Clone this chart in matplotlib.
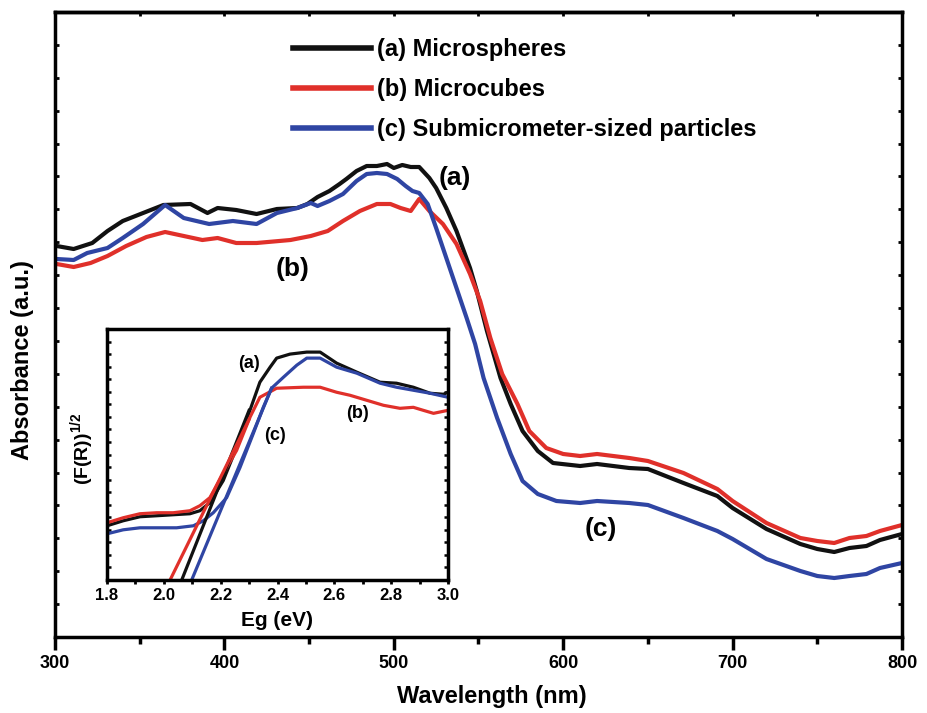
import matplotlib
matplotlib.use('Agg')
import matplotlib.pyplot as plt
import numpy as np

plt.rcParams['font.family'] = ['Liberation Sans', 'DejaVu Sans']
plt.rcParams['font.weight'] = 'bold'
plt.rcParams['mathtext.fontset'] = 'custom'
plt.rcParams['mathtext.rm'] = 'Liberation Sans:bold'
plt.rcParams['mathtext.bf'] = 'Liberation Sans:bold'

BLACK = '#111111'
RED = '#e0302a'
BLUE = '#2f45a3'

# main panel: UV-vis absorbance, arbitrary units
wl_a = [301, 311, 322, 331, 340, 352, 364, 380, 390, 396, 407, 419, 431, 443, 449, 455, 462, 468,
        472, 478, 484, 490, 496, 500, 505, 510, 515, 521, 525, 531, 537, 545, 549, 555, 563, 569,
        576, 585, 594, 610, 620, 639, 650, 671, 691, 700, 720, 740, 750, 760, 769, 779, 787, 800]
abs_a = [3.91, 3.88, 3.94, 4.06, 4.16, 4.24, 4.32, 4.33, 4.24, 4.29, 4.27, 4.23, 4.28, 4.29, 4.33,
         4.40, 4.46, 4.53, 4.58, 4.66, 4.71, 4.71, 4.73, 4.69, 4.72, 4.70, 4.70, 4.59, 4.49, 4.29,
         4.06, 3.69, 3.46, 3.06, 2.59, 2.33, 2.06, 1.86, 1.74, 1.71, 1.73, 1.69, 1.68, 1.54, 1.41,
         1.29, 1.08, 0.93, 0.88, 0.85, 0.89, 0.91, 0.97, 1.03]

wl_b = [301, 311, 321, 331, 342, 354, 365, 376, 387, 396, 407, 419, 439, 451, 461, 470, 480, 490,
        498, 504, 510, 515, 521, 529, 537, 545, 551, 557, 564, 573, 580, 590, 600, 610, 620, 639,
        650, 671, 691, 700, 720, 740, 750, 760, 769, 779, 787, 800]
abs_b = [3.73, 3.70, 3.74, 3.81, 3.91, 4.00, 4.05, 4.01, 3.97, 3.99, 3.94, 3.94, 3.97, 4.01, 4.06,
         4.16, 4.26, 4.33, 4.33, 4.29, 4.26, 4.38, 4.26, 4.13, 3.93, 3.63, 3.36, 2.99, 2.63, 2.33,
         2.06, 1.89, 1.83, 1.81, 1.83, 1.79, 1.76, 1.64, 1.48, 1.36, 1.14, 0.99, 0.96, 0.94, 0.99,
         1.01, 1.06, 1.12]

wl_c = [301, 311, 319, 331, 340, 352, 365, 376, 391, 405, 419, 431, 443, 451, 455, 462, 470, 478,
        484, 490, 496, 502, 507, 511, 515, 520, 525, 531, 537, 543, 548, 553, 561, 569, 576, 585,
        596, 610, 620, 639, 650, 671, 691, 700, 720, 740, 750, 760, 769, 779, 787, 800]
abs_c = [3.78, 3.77, 3.84, 3.89, 3.99, 4.13, 4.32, 4.19, 4.13, 4.16, 4.13, 4.24, 4.29, 4.34, 4.31,
         4.36, 4.43, 4.56, 4.63, 4.64, 4.63, 4.58, 4.51, 4.46, 4.44, 4.33, 4.09, 3.79, 3.49, 3.19,
         2.93, 2.59, 2.19, 1.83, 1.56, 1.43, 1.36, 1.34, 1.36, 1.34, 1.32, 1.19, 1.06, 0.98, 0.78,
         0.66, 0.61, 0.59, 0.61, 0.63, 0.69, 0.74]

labels = ['(a) Microspheres', '(b) Microcubes', '(c) Submicrometer-sized particles']

# inset: Kubelka-Munk plot
eg_a = [1.80, 1.857, 1.916, 1.975, 2.033, 2.092, 2.127, 2.162, 2.209, 2.256, 2.303, 2.338, 2.374,
        2.397, 2.444, 2.503, 2.55, 2.608, 2.679, 2.761, 2.819, 2.878, 2.937, 2.984, 3.0]
fr_a = [0.54, 0.59, 0.63, 0.64, 0.65, 0.66, 0.69, 0.77, 0.99, 1.32, 1.69, 1.97, 2.12, 2.21, 2.25,
        2.27, 2.27, 2.16, 2.07, 1.97, 1.96, 1.92, 1.86, 1.85, 1.87]
eg_b = [1.80, 1.857, 1.916, 1.975, 2.033, 2.092, 2.127, 2.162, 2.209, 2.256, 2.303, 2.338, 2.397,
        2.491, 2.55, 2.608, 2.655, 2.714, 2.773, 2.831, 2.878, 2.913, 2.949, 3.0]
fr_b = [0.57, 0.62, 0.66, 0.67, 0.67, 0.69, 0.74, 0.82, 1.06, 1.29, 1.62, 1.82, 1.91, 1.92, 1.92,
        1.87, 1.84, 1.79, 1.74, 1.71, 1.72, 1.69, 1.66, 1.69]
eg_c = [1.80, 1.857, 1.916, 1.975, 2.045, 2.104, 2.139, 2.174, 2.221, 2.268, 2.315, 2.350, 2.379,
        2.421, 2.468, 2.503, 2.55, 2.608, 2.679, 2.761, 2.819, 2.878, 2.937, 3.0]
fr_c = [0.46, 0.50, 0.52, 0.52, 0.52, 0.54, 0.59, 0.67, 0.82, 1.12, 1.46, 1.72, 1.91, 2.02, 2.14,
        2.21, 2.21, 2.12, 2.06, 1.96, 1.92, 1.89, 1.86, 1.82]

# band-gap tangent lines
tan_a_e = [2.063, 2.30]
tan_a_v = [0.0, 1.69]
tan_b_e = [2.022, 2.30]
tan_b_v = [0.0, 1.60]
tan_c_e = [2.098, 2.379]
tan_c_v = [0.0, 1.91]

fig = plt.figure(figsize=(9.28, 7.13), dpi=100)
ax = fig.add_axes([55 / 928, 1 - 637 / 713, 847 / 928, 625 / 713])

ax.plot(wl_a, abs_a, color=BLACK, lw=3, label=labels[0])
ax.plot(wl_b, abs_b, color=RED, lw=3, label=labels[1])
ax.plot(wl_c, abs_c, color=BLUE, lw=3, label=labels[2])

ax.set_xlim(300, 800)
ax.set_ylim(0, 6.25)
ax.set_xticks([300, 400, 500, 600, 700, 800])
ax.set_xticks([350, 450, 550, 650, 750], minor=True)
ax.set_yticks(np.linspace(0, 6.25, 20))
ax.set_yticklabels([])
ax.tick_params(axis='x', which='major', direction='out', length=9, width=2.5, labelsize=13, pad=4)
ax.tick_params(axis='x', which='minor', direction='out', length=5, width=2.5)
ax.tick_params(axis='y', which='major', direction='in', length=3, width=2, left=True, right=True)
for lab in ax.get_xticklabels():
    lab.set_fontweight('bold')
top = ax.secondary_xaxis('top')
top.set_xticks(np.arange(300, 801, 50))
top.set_xticklabels([])
top.tick_params(direction='in', length=3, width=2)
for sp in ax.spines.values():
    sp.set_linewidth(2.5)
top.spines['top'].set_linewidth(2.5)

fig.text(492 / 928, 1 - 697 / 713, 'Wavelength (nm)', fontsize=17, fontweight='bold',
         ha='center', va='center')
fig.text(23 / 928, 1 - 360 / 713, 'Absorbance (a.u.)', fontsize=17, fontweight='bold',
         ha='center', va='center', rotation=90)

leg = ax.legend(loc='upper left', bbox_to_anchor=(293 / 928, 1 - 38 / 713),
                bbox_transform=fig.transFigure, frameon=False,
                handlelength=3.3, handletextpad=0.25, labelspacing=0.72,
                borderpad=0, borderaxespad=0, prop={'weight': 'bold', 'size': 17})
for line in leg.get_lines():
    line.set_linewidth(4)

ax.text(536, 4.59, '(a)', fontsize=19, fontweight='bold', ha='center', va='center')
ax.text(440, 3.68, '(b)', fontsize=19, fontweight='bold', ha='center', va='center')
ax.text(622, 1.08, '(c)', fontsize=19, fontweight='bold', ha='center', va='center')

# inset
axin = fig.add_axes([107 / 928, 1 - 580 / 713, 341 / 928, 251 / 713])
axin.plot(eg_a, fr_a, color=BLACK, lw=2.3)
axin.plot(eg_b, fr_b, color=RED, lw=2.3)
axin.plot(eg_c, fr_c, color=BLUE, lw=2.3)
axin.plot(tan_a_e, tan_a_v, color=BLACK, lw=2.3)
axin.plot(tan_b_e, tan_b_v, color=RED, lw=2.3)
axin.plot(tan_c_e, tan_c_v, color=BLUE, lw=2.3)
axin.set_xlim(1.8, 3.0)
axin.set_ylim(0, 2.5)
axin.set_xticks(np.arange(1.8, 3.01, 0.2))
axin.set_xticks(np.arange(1.9, 3.0, 0.2), minor=True)
axin.set_xticklabels(['%.1f' % v for v in np.arange(1.8, 3.01, 0.2)], fontsize=12, fontweight='bold')
axin.set_yticks(np.linspace(0, 2.5, 21))
axin.set_yticklabels([])
axin.tick_params(axis='x', which='both', direction='out', length=3, width=2, pad=3)
axin.tick_params(axis='y', direction='in', length=3, width=1.8, left=True, right=True)
for sp in axin.spines.values():
    sp.set_linewidth(2.5)

fig.text(277 / 928, 1 - 621 / 713, 'Eg (eV)', fontsize=15, fontweight='bold', ha='center', va='center')
fig.text(83 / 928, 1 - 449 / 713, r'(F(R))$^{\mathbf{1/2}}$', fontsize=14, fontweight='bold',
         ha='center', va='center', rotation=90)
axin.text(2.30, 2.16, '(a)', fontsize=13, fontweight='bold', ha='center', va='center')
axin.text(2.68, 1.66, '(b)', fontsize=13, fontweight='bold', ha='center', va='center')
axin.text(2.39, 1.44, '(c)', fontsize=13, fontweight='bold', ha='center', va='center')

fig.savefig('out.png', dpi=100)
